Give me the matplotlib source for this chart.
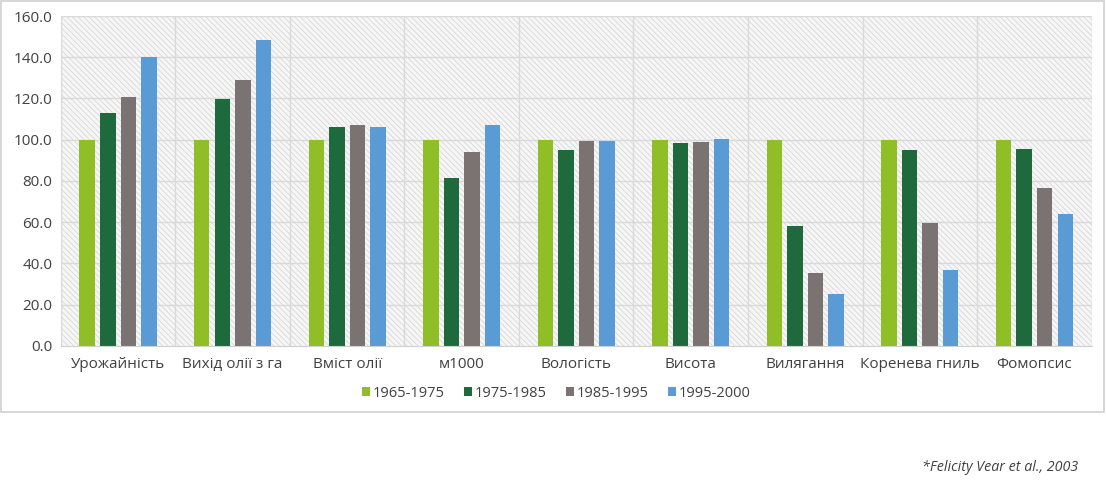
import matplotlib
matplotlib.use("Agg")
import matplotlib.pyplot as plt
from matplotlib.patches import Rectangle
import numpy as np

plt.rcParams['font.family'] = ['Open Sans', 'DejaVu Sans']
plt.rcParams['hatch.color'] = '#d4d4d4'
plt.rcParams['hatch.linewidth'] = 0.6

categories = ['Урожайність', 'Вихід олії з га', 'Вміст олії', 'м1000', 'Вологість',
              'Висота', 'Вилягання', 'Коренева гниль', 'Фомопсис']
periods = ['1965-1975', '1975-1985', '1985-1995', '1995-2000']
v_1965 = [100, 100, 100, 100, 100, 100, 100, 100, 100]
v_1975 = [113, 119.8, 106.3, 81.6, 95, 98.6, 58.2, 95, 95.6]
v_1985 = [120.8, 129, 107, 94.2, 99.2, 99, 35.5, 59.8, 76.4]
v_1995 = [140.2, 148.2, 106.1, 107, 99.5, 100.5, 25, 36.7, 63.8]
colors = ['#8fbe27', '#1f6a3d', '#7a7372', '#5b9bd5']

series = [v_1965, v_1975, v_1985, v_1995]

fig = plt.figure(figsize=(11.06, 4.87), dpi=100)
ax = fig.add_axes([0.055, 0.29, 0.932, 0.677])

x = np.arange(len(categories))
step = 0.18
width = 0.135
for i, (vals, col, lab) in enumerate(zip(series, colors, periods)):
    ax.bar(x + (i - 1.5) * step, vals, width, color=col, label=lab, zorder=3)

ax.set_xlim(-0.5, len(categories) - 0.5)
ax.set_ylim(0, 160)
ax.set_yticks(np.arange(0, 161, 20))
ax.set_yticklabels([f'{v:.1f}' for v in np.arange(0, 161, 20)])
ax.set_xticks(x)
ax.set_xticklabels(categories)
ax.tick_params(axis='both', length=0, labelsize=11, colors='#404040')
ax.tick_params(axis='x', pad=8)
ax.tick_params(axis='y', pad=6)

# hatched background
ax.patch.set_facecolor('white')
ax.add_patch(Rectangle((0, 0), 1, 1, transform=ax.transAxes, facecolor='#f6f6f6',
                       hatch='\\\\\\\\\\\\', edgecolor='#d8d8d8', linewidth=0, zorder=0))

for y in np.arange(20, 161, 20):
    ax.axhline(y, color='#d9d9d9', lw=1, zorder=1)
for b in np.arange(-0.5, len(categories), 1):
    ax.axvline(b, color='#d9d9d9', lw=1, zorder=1)
for s in ['top', 'right', 'left']:
    ax.spines[s].set_visible(False)
ax.spines['bottom'].set_color('#d0d0d0')
ax.spines['bottom'].set_zorder(4)

leg = fig.legend(loc='center', bbox_to_anchor=(0.503, 0.192), ncol=4, frameon=False,
                 fontsize=10.5, handlelength=0.55, handleheight=0.55, handletextpad=0.2,
                 columnspacing=1.3)
for t in leg.get_texts():
    t.set_color('#404040')

# outer frame
fig.patches.append(Rectangle((0.001, 0.155), 0.997, 0.843, transform=fig.transFigure,
                             fill=False, edgecolor='#d0d0d0', lw=1.2))

fig.text(0.975, 0.04, '*Felicity Vear et al., 2003', ha='right', va='center',
         fontsize=10.3, style='italic', color='#404040')

fig.savefig('out.png', dpi=100)
